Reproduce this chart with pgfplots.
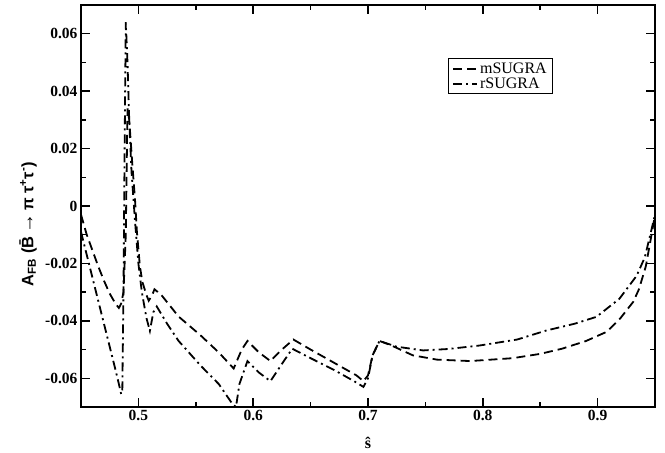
\documentclass[border=0pt]{standalone}
\usepackage{fontspec}
\setmainfont{Liberation Serif}
\newfontfamily\lsans{Liberation Sans}
\usepackage{pgfplots}
\pgfplotsset{compat=1.18}
\begin{document}
\begin{tikzpicture}
\begin{axis}[
  scale only axis, width=574pt, height=402pt,
  xmin=0.45, xmax=0.95, ymin=-0.07, ymax=0.07,
  scaled x ticks=false, scaled y ticks=false,
  xtick={0.5,0.6,0.7,0.8,0.9}, xticklabels={0.5,0.6,0.7,0.8,0.9},
  minor xtick={0.55,0.65,0.75,0.85},
  ytick={-0.06,-0.04,-0.02,0,0.02,0.04,0.06},
  yticklabels={-0.06,-0.04,-0.02,0,0.02,0.04,0.06},
  minor ytick={-0.05,-0.03,-0.01,0.01,0.03,0.05},
  tick align=inside, major tick length=9pt, minor tick length=5pt,
  every tick/.style={line width=1.5pt, black},
  axis line style={line width=2pt},
  tick label style={font=\fontsize{15.5}{18}\selectfont\bfseries},
  xlabel={\fontsize{16}{18}\selectfont\bfseries\^{s}},
  xlabel style={at={(axis description cs:0.5,-0.0896)}, anchor=center},
  ylabel={\lsans\fontsize{16.5}{18}\selectfont\bfseries A\textsubscript{FB} (\={B}\,{\fontsize{20}{18}\selectfont→}\,π τ\textsuperscript{+}τ\textsuperscript{-})},
  ylabel style={at={(axis description cs:-0.0923,0.455)}, anchor=center},
  legend style={at={(rel axis cs:0.639,0.868)}, anchor=north west, draw=black, line width=1pt,
    font=\fontsize{16}{17}\selectfont, row sep=-1pt, inner xsep=4pt, inner ysep=2pt},
  legend cell align=left,
  legend image code/.code={\draw[#1] (0pt,0pt) -- (24pt,0pt);},
]
\addplot[black, line width=1.8pt, dash pattern=on 9pt off 5pt] coordinates {
(0.450,-0.003) (0.455,-0.010) (0.460,-0.0155) (0.465,-0.021) (0.470,-0.026)
(0.475,-0.0305) (0.480,-0.034) (0.483,-0.0355) (0.485,-0.034) (0.487,-0.030)
(0.489,-0.010) (0.4905,0.034) (0.492,0.030) (0.4948,0.014) (0.497,0.0025)
(0.4987,-0.009) (0.5013,-0.021) (0.5035,-0.0265) (0.507,-0.031) (0.509,-0.033)
(0.512,-0.031) (0.514,-0.029) (0.520,-0.031) (0.535,-0.0385) (0.554,-0.045)
(0.570,-0.051) (0.583,-0.0566) (0.590,-0.050) (0.595,-0.047) (0.605,-0.051)
(0.615,-0.054) (0.625,-0.050) (0.635,-0.0465) (0.650,-0.050) (0.670,-0.0545)
(0.690,-0.059) (0.696,-0.061) (0.700,-0.059) (0.704,-0.052) (0.710,-0.047)
(0.720,-0.0485) (0.739,-0.052) (0.760,-0.0535) (0.789,-0.054) (0.826,-0.053)
(0.850,-0.0515) (0.869,-0.0497) (0.890,-0.047) (0.908,-0.0438) (0.920,-0.039)
(0.931,-0.0334) (0.936,-0.029) (0.942,-0.021) (0.947,-0.010) (0.950,-0.003)
};
\addlegendentry{mSUGRA}
\addplot[black, line width=1.8pt, dash pattern=on 9pt off 4pt on 2pt off 4pt] coordinates {
(0.450,-0.009) (0.455,-0.017) (0.460,-0.025) (0.465,-0.033) (0.470,-0.041)
(0.475,-0.049) (0.480,-0.057) (0.483,-0.062) (0.485,-0.0655) (0.486,-0.064)
(0.487,-0.030) (0.488,0.020) (0.489,0.064) (0.4905,0.050) (0.492,0.030)
(0.494,0.012) (0.497,-0.005) (0.500,-0.020) (0.503,-0.030) (0.507,-0.039)
(0.510,-0.0435) (0.513,-0.037) (0.516,-0.035) (0.525,-0.041) (0.535,-0.047)
(0.554,-0.0555) (0.570,-0.062) (0.582,-0.069) (0.585,-0.070) (0.588,-0.062)
(0.595,-0.054) (0.605,-0.058) (0.615,-0.061) (0.625,-0.055) (0.634,-0.0497)
(0.650,-0.053) (0.670,-0.057) (0.690,-0.0615) (0.696,-0.063) (0.700,-0.060)
(0.704,-0.052) (0.710,-0.047) (0.725,-0.049) (0.748,-0.0503) (0.770,-0.0498)
(0.797,-0.0486) (0.830,-0.0465) (0.855,-0.0434) (0.880,-0.041) (0.899,-0.0386)
(0.919,-0.0323) (0.934,-0.0243) (0.941,-0.018) (0.945,-0.0115) (0.950,-0.003)
};
\addlegendentry{rSUGRA}
\end{axis}
\path ([shift={(-81pt,-46pt)}]current axis.south west) rectangle ([shift={(10pt,5pt)}]current axis.north east);
\end{tikzpicture}
\end{document}
